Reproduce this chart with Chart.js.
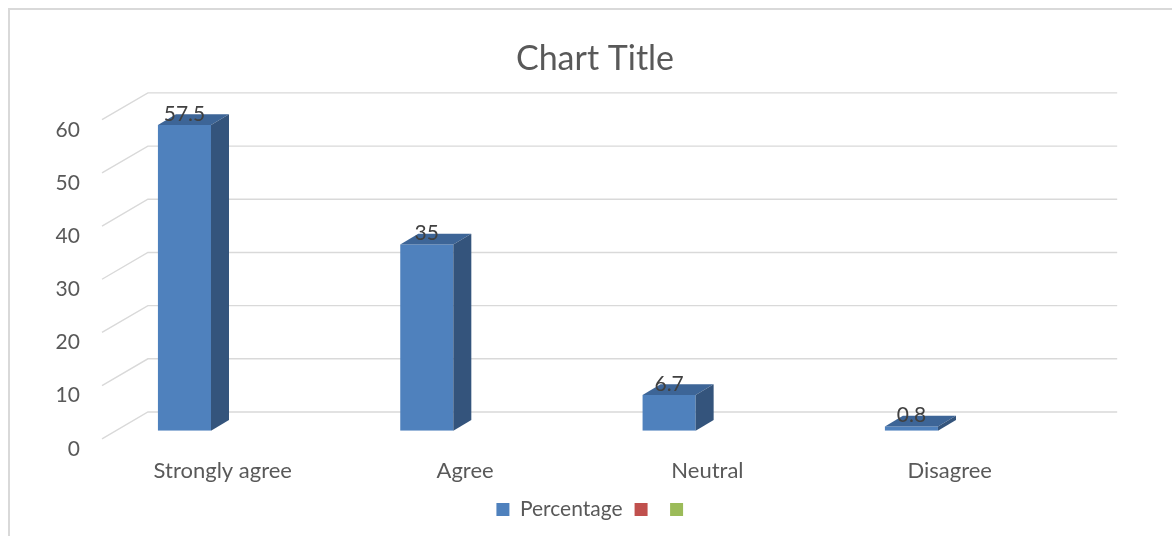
<!DOCTYPE html>
<html>
<head>
<meta charset="utf-8">
<script src="https://cdn.jsdelivr.net/npm/chart.js@4/dist/chart.umd.min.js"></script>
<style>
  html, body { margin: 0; padding: 0; background: #fff; overflow: hidden; }
  #frame { position: absolute; left: 8px; top: 8px; width: 1300px; height: 700px;
           border-left: 2px solid #d9d9d9; border-top: 2px solid #d9d9d9; }
  #wrap { position: absolute; left: 0; top: 0; width: 1172px; height: 536px; }
</style>
</head>
<body>
<div id="frame"></div>
<div id="wrap"><canvas id="myChart"></canvas></div>
<script>
var categories = ["Strongly agree", "Agree", "Neutral", "Disagree"];
var percentage = [57.5, 35, 6.7, 0.8];
var series2 = [null, null, null, null];
var series3 = [null, null, null, null];
var seriesNames = ["Percentage", "", ""];
var yMin = 0, yMax = 60, yStep = 10;

var FONT = "Lato";
// 3d look (pixel offsets for depth)
var depth = { barDx: 18, barDy: -10.7, sideDx: 38.7, sideDy: 8.1, backDx: 84.6, backDy: -18.7 };

var box3d = {
  id: 'box3d',
  beforeDatasetsDraw: function(chart) {
    var ctx = chart.ctx, area = chart.chartArea, y = chart.scales.y;
    ctx.save();
    ctx.strokeStyle = '#d9d9d9';
    ctx.lineWidth = 1.4;
    y.ticks.forEach(function(t) {
      var py = y.getPixelForValue(t.value);
      ctx.beginPath();
      ctx.moveTo(area.left + depth.sideDx, py + depth.sideDy);
      ctx.lineTo(area.left + depth.backDx, py + depth.backDy);
      ctx.lineTo(area.right + depth.backDx, py + depth.backDy);
      ctx.stroke();
    });
    ctx.restore();
  },
  afterDatasetsDraw: function(chart) {
    var ctx = chart.ctx;
    var meta = chart.getDatasetMeta(0);
    var dx = depth.barDx, dy = depth.barDy;
    ctx.save();
    meta.data.forEach(function(bar, i) {
      var p = bar.getProps(['x', 'y', 'base', 'width'], true);
      var l = p.x - p.width / 2, r = p.x + p.width / 2;

      // top face
      ctx.fillStyle = '#3d6597';
      ctx.beginPath();
      ctx.moveTo(l, p.y);
      ctx.lineTo(r, p.y);
      ctx.lineTo(r + dx, p.y + dy);
      ctx.lineTo(l + dx, p.y + dy);
      ctx.closePath();
      ctx.fill();

      // side face
      ctx.fillStyle = '#34547c';
      ctx.beginPath();
      ctx.moveTo(r, p.y);
      ctx.lineTo(r + dx, p.y + dy);
      ctx.lineTo(r + dx, p.base + dy);
      ctx.lineTo(r, p.base);
      ctx.closePath();
      ctx.fill();

      // value label
      ctx.fillStyle = '#404040';
      ctx.font = '21px ' + FONT;
      ctx.textAlign = 'center';
      ctx.textBaseline = 'middle';
      ctx.fillText(String(percentage[i]), p.x, p.y - 11);
    });
    ctx.restore();
  }
};

var ctx = document.getElementById('myChart').getContext('2d');
var chart = new Chart(ctx, {
  type: 'bar',
  data: {
    labels: categories,
    datasets: [{
      label: seriesNames[0],
      data: percentage,
      backgroundColor: '#4f81bd',
      borderWidth: 0
    }, {
      label: seriesNames[1],
      data: series2,
      backgroundColor: '#c0504d',
      borderWidth: 0
    }, {
      label: seriesNames[2],
      data: series3,
      backgroundColor: '#9bbb59',
      borderWidth: 0
    }]
  },
  options: {
    responsive: true,
    maintainAspectRatio: false,
    animation: false,
    grouped: false,
    categoryPercentage: 1,
    barPercentage: 0.219,
    layout: { padding: { left: 18, right: 0, top: 0, bottom: 6 } },
    scales: {
      x: {
        offset: true,
        grid: { display: false, drawTicks: false },
        border: { display: false },
        ticks: { color: '#595959', font: { family: FONT, size: 22 }, padding: 27.4, labelOffset: 38.3, maxRotation: 0, autoSkip: false },
        afterFit: function(scale) { scale.height = 56.3; }
      },
      y: {
        min: yMin, max: yMax,
        grid: { display: false, drawTicks: false },
        border: { display: false },
        ticks: { stepSize: yStep, color: '#595959', font: { family: FONT, size: 21 }, mirror: true, crossAlign: 'far', padding: -7.7, labelOffset: 18.2 },
        afterFit: function(scale) { scale.width = 45.3; }
      },
      y2: {
        position: 'right',
        min: yMin, max: yMax,
        grid: { display: false, drawTicks: false },
        border: { display: false },
        ticks: { display: false },
        afterFit: function(scale) { scale.width = 139.4; }
      }
    },
    plugins: {
      title: {
        display: true,
        text: 'Chart Title',
        color: '#595959',
        font: { family: FONT, size: 34, weight: 'normal' },
        padding: { top: 38.4, bottom: 32.4 }
      },
      legend: {
        position: 'bottom',
        labels: { boxWidth: 13, boxHeight: 13, padding: 12, color: '#595959', font: { family: FONT, size: 21 } }
      },
      tooltip: { enabled: false }
    }
  },
  plugins: [box3d]
});
</script>
</body>
</html>
